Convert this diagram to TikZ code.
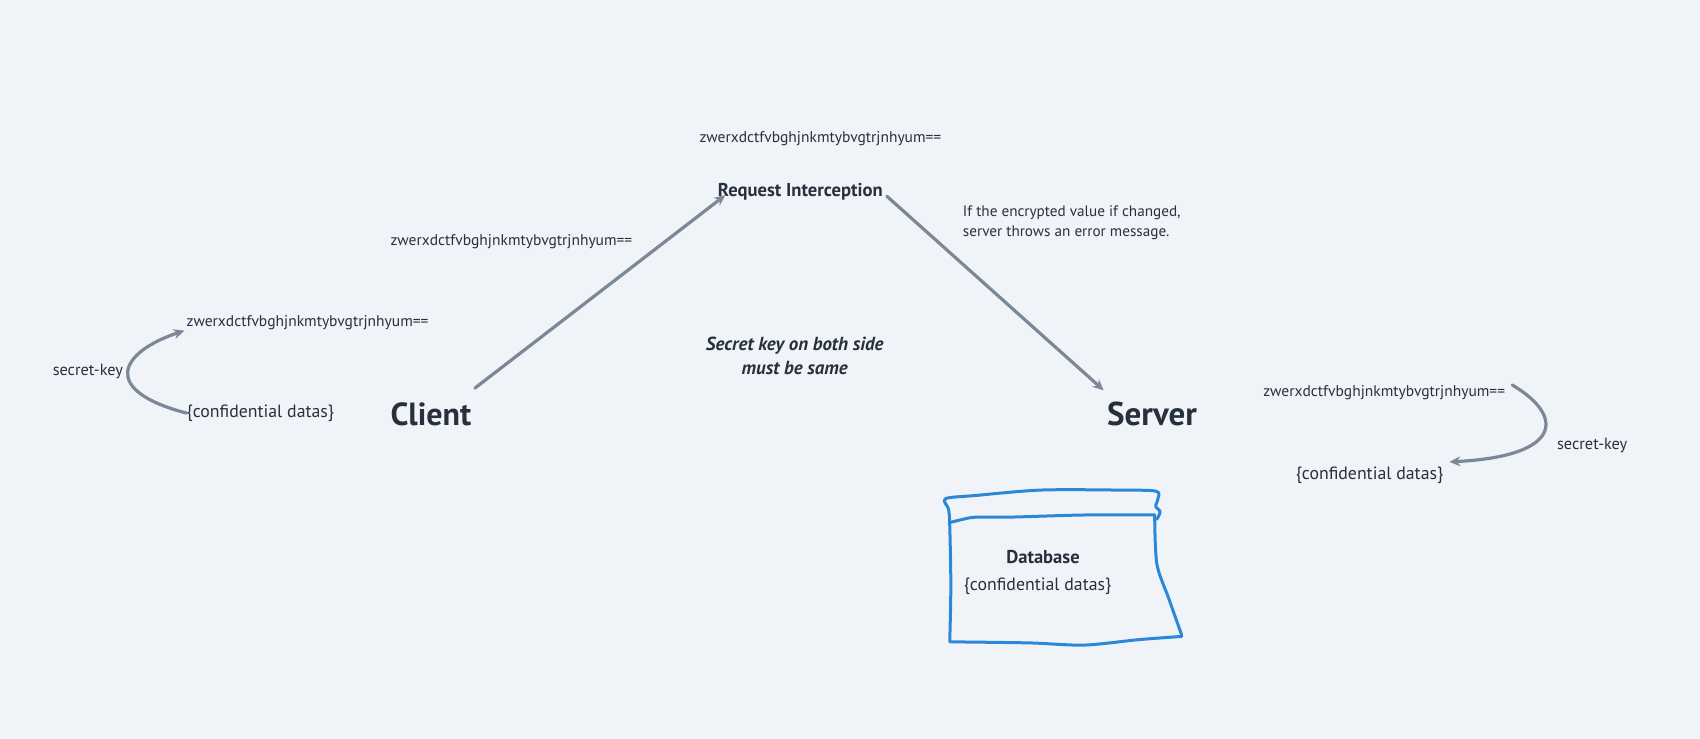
\documentclass[tikz,border=0pt]{standalone}
\usepackage{fontspec}
\setmainfont{PT Sans}
\usetikzlibrary{arrows.meta}
\definecolor{bgc}{HTML}{F0F4F8}
\definecolor{txt}{HTML}{27313D}
\definecolor{arr}{HTML}{7A8899}
\definecolor{dbblue}{HTML}{2B87D8}
\begin{document}
\begin{tikzpicture}[x=1.0842pt,y=-1.0842pt,
  lbl/.style={inner sep=0pt,text=txt,font=\fontsize{15.5}{18}\selectfont},
  conf/.style={inner sep=0pt,text=txt,font=\fontsize{17.8}{20}\selectfont},
  big/.style={inner sep=0pt,text=txt,font=\fontsize{32}{36}\selectfont\bfseries},
  head/.style={inner sep=0pt,text=txt,font=\fontsize{18.6}{21}\selectfont\bfseries},
  conn/.style={draw=arr,line width=3.2pt,line cap=round,-{Stealth[length=11pt,width=10pt]}}]
\fill[bgc] (0,0) rectangle (1568,681.6);
\useasboundingbox (0,0) rectangle (1568,681.6);

% left side
\node[lbl,font=\fontsize{16.3}{18}\selectfont] (skl) at (81,343) {secret-key};
\node[lbl,anchor=west] (encl) at (172,298) {zwerxdctfvbghjnkmtybvgtrjnhyum==};
\node[conf,anchor=west] (confl) at (172,381) {\{confidential datas\}};
\node[big,anchor=west] (client) at (360,382) {Client};

% middle
\node[lbl,anchor=west] (enc1) at (360,223) {zwerxdctfvbghjnkmtybvgtrjnhyum==};
\node[lbl,anchor=west] (enc2) at (645,128) {zwerxdctfvbghjnkmtybvgtrjnhyum==};
\node[head,anchor=west] (req) at (662,177) {Request Interception};
\node[lbl,anchor=west,align=left,font=\fontsize{15.2}{20.6}\selectfont] (note) at (888,205.5) {If the encrypted value if changed,\\server throws an error message.};
\node[inner sep=0pt,text=txt,align=center,font=\fontsize{18.9}{23.9}\selectfont\bfseries\itshape] (same) at (733,328) {Secret key on both side\\must be same};

% right side
\node[big,anchor=west,font=\fontsize{33}{36}\selectfont\bfseries] (server) at (1021,382) {Server};
\node[lbl,anchor=west] (encr) at (1165,362) {zwerxdctfvbghjnkmtybvgtrjnhyum==};
\node[lbl,anchor=west,font=\fontsize{16.3}{18}\selectfont] (skr) at (1436,411) {secret-key};
\node[conf,anchor=west] (confr) at (1195,438) {\{confidential datas\}};

% database
\node[head] (db) at (962,514) {Database};
\node[conf] (dbc) at (957,541) {\{confidential datas\}};
\begin{scope}[draw=dbblue,line width=3pt,line cap=round,line join=round]
\draw plot[smooth,tension=0.5] coordinates {(876,592) (877,540) (876,485) (875,470) (872,460) (900,457) (960,452) (1030,452) (1066,453) (1068,460) (1066,467) (1070,472) (1067,479)};
\draw plot[smooth,tension=0.5] coordinates {(876,482) (888,479) (900,477) (930,477) (1000,475) (1065,475)};
\draw plot[smooth,tension=0.5] coordinates {(1065,475) (1067,520) (1078,552) (1090,586)};
\draw plot[smooth,tension=0.5] coordinates {(1090,587) (1050,590) (1000,595) (950,593) (877,592)};
\end{scope}

% connectors
\coordinate (c1s) at (438,358);
\coordinate (c1e) at (669,180);
\coordinate (c2s) at (818,181);
\coordinate (c2e) at (1018,360);
\draw[conn] (c1s) -- (c1e);
\draw[conn] (c2s) -- (c2e);
\draw[conn] (confl.west) .. controls (92,360) and (110,325) .. ([xshift=-2pt,yshift=-7.5pt]encl.west);
\draw[conn] ([xshift=7pt,yshift=7.5pt]encr.east) .. controls (1445,385) and (1439,421) .. ([xshift=6pt,yshift=13pt]confr.east);
\end{tikzpicture}
\end{document}
